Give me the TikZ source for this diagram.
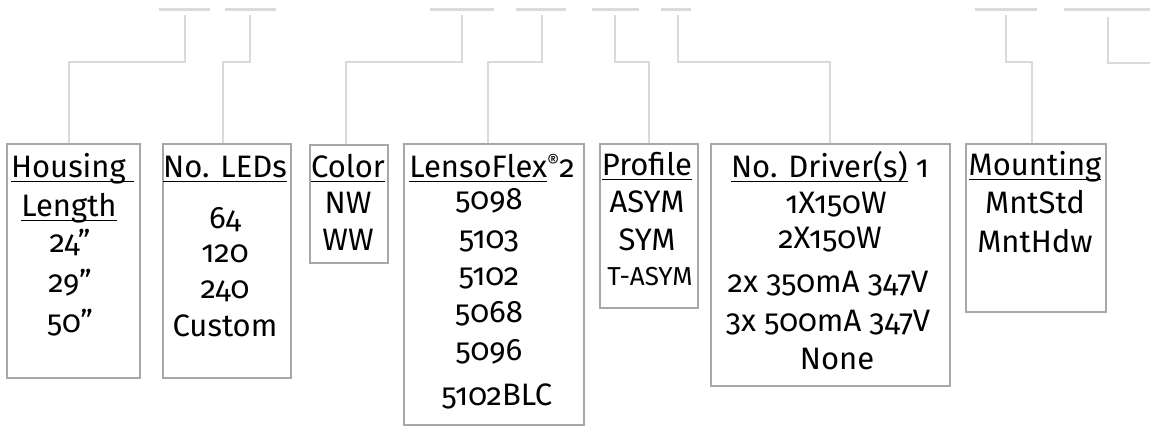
\documentclass[tikz,border=0pt]{standalone}
\usepackage{fontspec}
\setmainfont{Fira Sans}[Numbers=OldStyle]
\definecolor{boxgray}{HTML}{A7A7A9}
\definecolor{linegray}{HTML}{DADADA}
\newsavebox\ulbox
\newcommand\myul[1]{\sbox\ulbox{#1}\rlap{\rule[-5.4pt]{\wd\ulbox}{1.4pt}}\usebox\ulbox}
\newcommand\regmark{\raisebox{9pt}{\fontsize{19}{19}\selectfont ®}}
\tikzset{
  optbox/.style={draw=boxgray, line width=2.2pt, anchor=north west, inner sep=0pt, rectangle},
  conn/.style={draw=linegray, line width=2pt},
  tick/.style={draw=linegray, line width=2.4pt},
  txt/.style={anchor=base, inner sep=0pt, font=\fontsize{31}{36}\selectfont, text=black},
  smalltxt/.style={anchor=base, inner sep=0pt, font=\fontsize{26}{30}\selectfont, text=black}
}
\begin{document}
\begin{tikzpicture}[x=1pt,y=-1pt]
\useasboundingbox (0,0) rectangle (1150,426);
% boxes
\node[optbox, minimum width=133pt, minimum height=234pt] (box1) at (6,143) {};
\node[optbox, minimum width=128pt, minimum height=234pt] (box2) at (162,143) {};
\node[optbox, minimum width=78pt, minimum height=118pt] (box3) at (309,144) {};
\node[optbox, minimum width=180pt, minimum height=281pt] (box4) at (403,143) {};
\node[optbox, minimum width=98pt, minimum height=164pt] (box5) at (599,143) {};
\node[optbox, minimum width=239pt, minimum height=242pt] (box6) at (710,143) {};
\node[optbox, minimum width=140pt, minimum height=168pt] (box7) at (965,143) {};
% top ticks
\draw[tick] (159,9.5) -- (210,9.5);
\draw[tick] (225,9.5) -- (276,9.5);
\draw[tick] (430,9.5) -- (494,9.5);
\draw[tick] (516,9.5) -- (566,9.5);
\draw[tick] (592,9.5) -- (639,9.5);
\draw[tick] (661,9.5) -- (691,9.5);
\draw[tick] (975,9.5) -- (1037,9.5);
\draw[tick] (1064,9.5) -- (1150,9.5);
% connector start points and joints
\coordinate (s1) at (185,15);  \coordinate (j1) at (69,62);
\coordinate (s2) at (250,15);  \coordinate (j2) at (223,62);
\coordinate (s3) at (462,15);  \coordinate (j3) at (346,62);
\coordinate (s4) at (542,15);  \coordinate (j4) at (488,62);
\coordinate (s5) at (615,15);  \coordinate (j5) at (649,62);
\coordinate (s6) at (678,15);  \coordinate (j6) at (830,62);
\coordinate (s7) at (1006,15); \coordinate (j7) at (1032,62);
\coordinate (s8) at (1108,17); \coordinate (e8) at (1150,63);
\draw[conn] (s1) |- (j1) -- (j1 |- box1.north);
\draw[conn] (s2) |- (j2) -- (j2 |- box2.north);
\draw[conn] (s3) |- (j3) -- (j3 |- box3.north);
\draw[conn] (s4) |- (j4) -- (j4 |- box4.north);
\draw[conn] (s5) |- (j5) -- (j5 |- box5.north);
\draw[conn] (s6) |- (j6) -- (j6 |- box6.north);
\draw[conn] (s7) |- (j7) -- (j7 |- box7.north);
\draw[conn] (s8) |- (e8);
% box 1
\node[txt] (h1a) at (72.5,177) {\myul{Housing }};
\node[txt] (h1b) at (69,216) {\myul{Length}};
\node[txt] (v1a) at (70,252) {24”};
\node[txt] (v1b) at (70,292) {29”};
\node[txt] (v1c) at (70,332) {50”};
% box 2
\node[txt] (h2) at (225,177) {\myul{No. LEDs}};
\node[txt] (v2a) at (225,228) {64};
\node[txt] (v2b) at (225,262) {120};
\node[txt] (v2c) at (225,298) {240};
\node[txt] (v2d) at (225,336) {Custom};
% box 3
\node[txt] (h3) at (348,177) {\myul{Color}};
\node[txt] (v3a) at (348,213) {NW};
\node[txt] (v3b) at (348,250) {WW};
% box 4
\node[txt] (h4) at (492,177) {\myul{LensoFlex}\regmark2};
\node[txt] (v4a) at (489,209) {5098};
\node[txt] (v4b) at (489,248) {5103};
\node[txt] (v4c) at (489,285) {5102};
\node[txt] (v4d) at (489,322) {5068};
\node[txt] (v4e) at (489,360) {5096};
\node[txt] (v4f) at (497,405) {5102BLC};
% box 5
\node[txt] (h5) at (647,175) {\myul{Profile}};
\node[txt] (v5a) at (647,212) {ASYM};
\node[txt] (v5b) at (647,250) {SYM};
\node[smalltxt] (v5c) at (650,285) {T-ASYM};
% box 6
\node[txt] (h6) at (830,177) {\myul{No. Driver(s)} 1};
\node[txt] (v6a) at (836,213) {1X150W};
\node[txt] (v6b) at (830,248) {2X150W};
\node[txt] (v6c) at (828,292) {2x 350mA 347V};
\node[txt] (v6d) at (828,331) {3x 500mA 347V};
\node[txt] (v6e) at (837,369) {None};
% box 7
\node[txt] (h7) at (1035,175) {\myul{Mounting}};
\node[txt] (v7a) at (1035,213) {MntStd};
\node[txt] (v7b) at (1035,252) {MntHdw};
\end{tikzpicture}
\end{document}
